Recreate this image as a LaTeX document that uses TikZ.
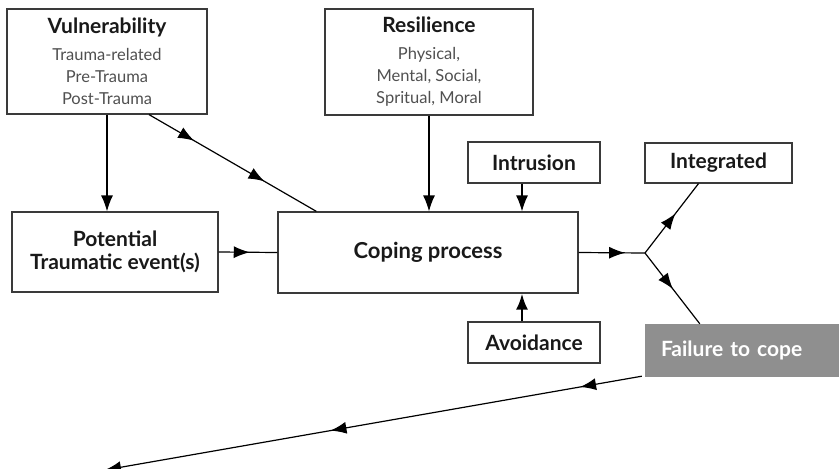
\documentclass[tikz,border=0pt]{standalone}
\usepackage{fontspec}
\setmainfont{Lato}
\usetikzlibrary{arrows.meta,decorations.markings,calc}

\definecolor{boxline}{HTML}{3A3A3A}
\definecolor{bodygray}{HTML}{505050}
\definecolor{failgray}{HTML}{8F8F8F}

\newcommand{\boxhead}[1]{{\fontsize{21}{22}\selectfont\bfseries\color{black!90}#1}}

\begin{document}
\begin{tikzpicture}[x=1pt, y=-1pt,
    box/.style={draw=boxline, line width=1.2pt, inner sep=0pt, align=center,
      text=bodygray, font=\fontsize{16.5}{22}\selectfont},
    boldbox/.style={box, text=black!90, font=\fontsize{21}{23}\selectfont\bfseries},
    conn/.style={line width=1.2pt},
    arr/.style={conn, -{Latex[length=16pt,width=12pt]}},
    midarr/.style={postaction={decorate, decoration={markings,
      mark=at position #1 with {\arrow{Latex[length=16pt,width=12pt]}}}}}]
  \useasboundingbox (0,0) rectangle (839,469);

  % boxes
  \node[box, minimum width=200, minimum height=105] (vuln) at (107,61.5)
    {\boxhead{Vulnerability}\\[5pt] Trauma-related\\ Pre-Trauma\\ Post-Trauma};
  \node[box, minimum width=208, minimum height=106] (resil) at (429,62)
    {\boxhead{Resilience}\\[5pt] Physical,\\ Mental, Social,\\ Spritual, Moral};
  \node[boldbox, minimum width=132, minimum height=41, font=\fontsize{21}{22}\selectfont\bfseries] (intr) at (534,162.5) {Intrusion};
  \node[boldbox, minimum width=147, minimum height=40, font=\fontsize{21}{22}\selectfont\bfseries] (integ) at (718.5,163) {Integrated};
  \node[boldbox, minimum width=206, minimum height=80] (pot) at (115,252) {Potential\\ Traumatic event(s)};
  \node[boldbox, minimum width=300, minimum height=81, font=\fontsize{22}{23}\selectfont\bfseries] (cope) at (428,252.5) {Coping process};
  \node[boldbox, minimum width=132, minimum height=41, font=\fontsize{21}{22}\selectfont\bfseries] (avoid) at (534,342.5) {Avoidance};
  \node[fill=failgray, text=white, inner ysep=0pt, inner xsep=16pt, text width=162pt, align=left,
    minimum height=53, font=\fontsize{21}{22}\selectfont\bfseries] (fail) at (742,350.5) {Failure to cope};

  \coordinate (split) at (645,253);
  \coordinate (lost) at (105,470);
  \coordinate (intrfoot) at ($(intr.south)+(-12,0)$);
  \coordinate (avoidtop) at ($(avoid.north)+(-12,0)$);

  % connectors
  \draw[arr] (vuln.south) -- (vuln.south |- pot.north);
  \draw[conn, midarr=0.27, midarr=0.69] ($(vuln.south)+(42,0)$) -- ($(cope.north west)+(39,0)$);
  \draw[arr] (resil.south) -- (resil.south |- cope.north);
  \draw[arr] (intrfoot) -- (intrfoot |- cope.north);
  \draw[line width=2.4pt, -{Latex[length=16pt,width=12pt]}] (avoidtop) -- (avoidtop |- cope.south);
  \draw[conn, midarr=0.53] (pot.east) -- (cope.west);
  \draw[conn, midarr=0.7] (cope.east) -- (split);
  \draw[conn, midarr=0.57] (split) -- ($(integ.south)+(-20,0)$);
  \draw[conn, midarr=0.51] (split) -- ($(fail.north west)+(55,0)$);
  \draw[conn, midarr=0.115, midarr=0.58, midarr=1] ($(fail.south west)+(-3,-1)$) -- (lost);
\end{tikzpicture}
\end{document}
